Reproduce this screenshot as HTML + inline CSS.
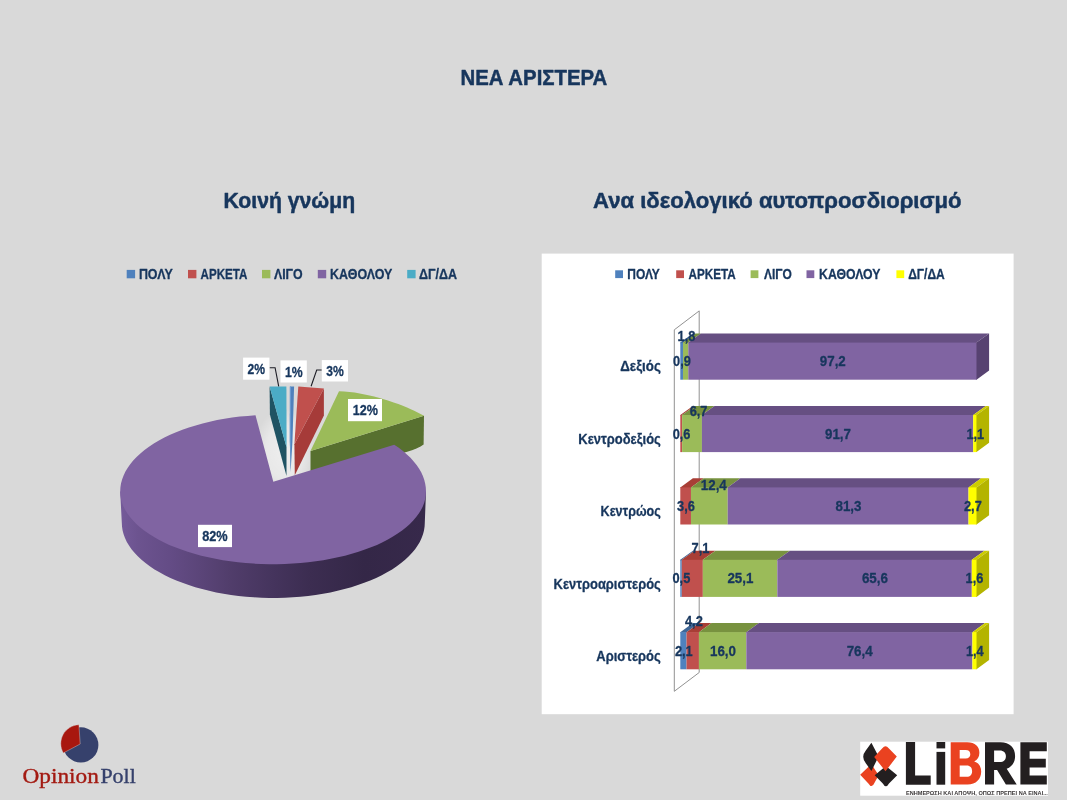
<!DOCTYPE html>
<html lang="el"><head><meta charset="utf-8"><title>ΝΕΑ ΑΡΙΣΤΕΡΑ</title>
<style>html,body{margin:0;padding:0;background:#d9d9d9;font-family:"Liberation Sans",sans-serif;}svg{display:block;will-change:transform;}</style>
</head><body>
<svg width="1067" height="800" viewBox="0 0 1067 800">
<rect x="0" y="0" width="1067" height="800" fill="#d9d9d9"/>
<defs>
<linearGradient id="pw" gradientUnits="userSpaceOnUse" x1="120" y1="0" x2="426" y2="0"><stop offset="0" stop-color="#755b9a"/><stop offset="0.06" stop-color="#6c538f"/><stop offset="0.16" stop-color="#644c86"/><stop offset="0.26" stop-color="#5b4579"/><stop offset="0.36" stop-color="#513d6b"/><stop offset="0.5" stop-color="#45345d"/><stop offset="0.62" stop-color="#3c2d51"/><stop offset="0.8" stop-color="#342747"/><stop offset="1" stop-color="#37294b"/></linearGradient>
<radialGradient id="ng" cx="0.5" cy="0.5" r="0.5"><stop offset="0" stop-color="#ffffff" stop-opacity="0.55"/><stop offset="0.6" stop-color="#ffffff" stop-opacity="0.4"/><stop offset="1" stop-color="#ffffff" stop-opacity="0"/></radialGradient>
</defs>
<text x="460.5" y="85" font-size="22.4" font-weight="bold" font-family="'Liberation Sans', sans-serif" fill="#17365d" stroke="#17365d" stroke-width="0.5" stroke-linejoin="round" text-anchor="start" textLength="146.8" lengthAdjust="spacingAndGlyphs">ΝΕΑ ΑΡΙΣΤΕΡΑ</text>
<text x="223.5" y="208" font-size="22.3" font-weight="bold" font-family="'Liberation Sans', sans-serif" fill="#17365d" stroke="#17365d" stroke-width="0.5" stroke-linejoin="round" text-anchor="start" textLength="131.6" lengthAdjust="spacingAndGlyphs">Κοινή γνώμη</text>
<text x="593.1" y="208" font-size="22.3" font-weight="bold" font-family="'Liberation Sans', sans-serif" fill="#17365d" stroke="#17365d" stroke-width="0.5" stroke-linejoin="round" text-anchor="start" textLength="368.5" lengthAdjust="spacingAndGlyphs">Ανα ιδεολογικό αυτοπροσδιορισμό</text>
<rect x="126.7" y="269.9" width="8.4" height="8.4" fill="#4f81bd"/>
<text x="138.9" y="278.5" font-size="14.1" font-weight="bold" font-family="'Liberation Sans', sans-serif" fill="#17365d" stroke="#17365d" stroke-width="0.3" stroke-linejoin="round" text-anchor="start" textLength="33.8" lengthAdjust="spacingAndGlyphs">ΠΟΛΥ</text>
<rect x="188.0" y="269.9" width="8.4" height="8.4" fill="#c0504d"/>
<text x="200.6" y="278.5" font-size="14.1" font-weight="bold" font-family="'Liberation Sans', sans-serif" fill="#17365d" stroke="#17365d" stroke-width="0.3" stroke-linejoin="round" text-anchor="start" textLength="46.8" lengthAdjust="spacingAndGlyphs">ΑΡΚΕΤΑ</text>
<rect x="262.0" y="269.9" width="8.4" height="8.4" fill="#9bbb59"/>
<text x="273.9" y="278.5" font-size="14.1" font-weight="bold" font-family="'Liberation Sans', sans-serif" fill="#17365d" stroke="#17365d" stroke-width="0.3" stroke-linejoin="round" text-anchor="start" textLength="28.7" lengthAdjust="spacingAndGlyphs">ΛΙΓΟ</text>
<rect x="317.8" y="269.9" width="8.4" height="8.4" fill="#8064a2"/>
<text x="330.1" y="278.5" font-size="14.1" font-weight="bold" font-family="'Liberation Sans', sans-serif" fill="#17365d" stroke="#17365d" stroke-width="0.3" stroke-linejoin="round" text-anchor="start" textLength="62.3" lengthAdjust="spacingAndGlyphs">ΚΑΘΟΛΟΥ</text>
<rect x="407.2" y="269.9" width="8.4" height="8.4" fill="#4bacc6"/>
<text x="419.0" y="278.5" font-size="14.1" font-weight="bold" font-family="'Liberation Sans', sans-serif" fill="#17365d" stroke="#17365d" stroke-width="0.3" stroke-linejoin="round" text-anchor="start" textLength="38.0" lengthAdjust="spacingAndGlyphs">ΔΓ/ΔΑ</text>
<g id="pie">
<ellipse cx="284" cy="452" rx="30" ry="44" fill="url(#ng)"/>
<path d="M310.5 450.9 L424 415.7 L423.6 444.5 Q418 448.5 408 451.5 L310.5 480 Z" fill="#57702f"/>
<path d="M310.5 450.9 L339 391.2 C353 391.4 367 394.6 378.7 397.7 C392 401.5 406 406.5 414.2 410.8 L424 415.7 Z" fill="#9bbb59"/>
<path d="M269.6 386.5 L286.5 447 L286.5 476 L269.9 414.5 Z" fill="#1f5363"/>
<path d="M269.6 386.5 L286.4 386.5 L286.6 447.5 Z" fill="#4bacc6"/>
<path d="M289.9 386.5 L294.1 386.5 L292.4 443 L290.5 472.5 L289.8 440 Z" fill="#4f81bd"/>
<path d="M289.9 386.5 L291 386.5 L290.8 470 L289.8 440 Z" fill="#6c9bd2"/>
<path d="M323.9 388.6 L323.9 415.6 L294.8 475.2 L294.4 444.3 Z" fill="#a63b39"/>
<path d="M298.3 386.6 L323.9 388.6 L294.4 444.3 Z" fill="#c0504d"/>
<path d="M120.2 491.5 L121.8 522.7 L122.0 526.6 L122.6 530.4 L123.6 534.3 L125.0 538.1 L126.8 541.9 L129.0 545.6 L131.5 549.2 L134.5 552.8 L137.8 556.3 L141.5 559.7 L145.5 563.1 L149.8 566.3 L154.5 569.4 L159.5 572.3 L164.8 575.2 L170.4 577.9 L176.3 580.4 L182.4 582.8 L188.7 585.1 L195.3 587.2 L202.1 589.1 L209.1 590.8 L216.2 592.4 L223.5 593.7 L231.0 594.9 L238.5 595.9 L246.1 596.7 L253.8 597.3 L261.6 597.7 L269.4 597.9 L277.2 597.9 L285.0 597.7 L292.8 597.3 L300.5 596.7 L308.1 595.9 L315.6 594.9 L323.1 593.7 L330.4 592.4 L337.5 590.8 L344.5 589.1 L351.3 587.2 L357.9 585.1 L364.2 582.8 L370.3 580.4 L376.2 577.9 L381.8 575.2 L387.1 572.3 L392.1 569.4 L396.8 566.3 L401.1 563.1 L405.1 559.7 L408.8 556.3 L412.1 552.8 L415.1 549.2 L417.6 545.6 L419.8 541.9 L421.6 538.1 L423.0 534.3 L424.0 530.4 L424.6 526.6 L424.8 522.7 L426 491.5 Z" fill="url(#pw)"/>
<path d="M273.3 481.8 L255.5 415.3 L247.7 415.9 L239.9 416.6 L232.1 417.6 L224.5 418.8 L217.1 420.1 L209.8 421.7 L202.6 423.4 L195.7 425.4 L188.9 427.5 L182.4 429.8 L176.1 432.2 L170.1 434.8 L164.4 437.6 L158.9 440.5 L153.8 443.5 L149.0 446.7 L144.5 450.0 L140.4 453.4 L136.6 456.9 L133.2 460.5 L130.2 464.2 L127.6 468.0 L125.3 471.8 L123.5 475.7 L122.1 479.6 L121.0 483.5 L120.4 487.5 L120.2 491.5 L120.4 495.2 L121.0 499.0 L122.0 502.7 L123.4 506.4 L125.2 510.0 L127.4 513.6 L130.0 517.1 L133.0 520.6 L136.3 524.0 L140.0 527.3 L144.1 530.5 L148.5 533.6 L153.2 536.6 L158.3 539.5 L163.6 542.2 L169.2 544.9 L175.2 547.3 L181.3 549.6 L187.7 551.8 L194.4 553.8 L201.2 555.7 L208.3 557.3 L215.5 558.8 L222.9 560.2 L230.4 561.3 L238.0 562.3 L245.7 563.0 L253.5 563.6 L261.3 564.0 L269.2 564.2 L277.0 564.2 L284.9 564.0 L292.7 563.6 L300.5 563.0 L308.2 562.3 L315.8 561.3 L323.3 560.2 L330.7 558.8 L337.9 557.3 L345.0 555.7 L351.8 553.8 L358.5 551.8 L364.9 549.6 L371.0 547.3 L377.0 544.9 L382.6 542.2 L387.9 539.5 L393.0 536.6 L397.7 533.6 L402.1 530.5 L406.2 527.3 L409.9 524.0 L413.2 520.6 L416.2 517.1 L418.8 513.6 L421.0 510.0 L422.8 506.4 L424.2 502.7 L425.2 499.0 L425.8 495.2 L426.0 491.5 L425.8 487.6 L425.2 483.8 L424.3 479.9 L422.9 476.1 L421.2 472.3 L419.0 468.6 L416.6 465.0 L413.7 461.4 L410.5 457.8 L406.9 454.4 L403.0 451.1 L398.8 447.8 L394.2 444.7 Z" fill="#8064a2"/>
<polyline points="269.6,367.7 275.1,367.7 278.7,386.3" fill="none" stroke="#1c1c24" stroke-width="1.1"/>
<polyline points="321.8,370 316.7,370 311.1,386.3" fill="none" stroke="#1c1c24" stroke-width="1.1"/>
<rect x="243.1" y="357.6" width="26.3" height="22.1" fill="#ffffff"/>
<text x="247.6" y="373.8" font-size="14" font-weight="bold" font-family="'Liberation Sans', sans-serif" fill="#17365d" stroke="#17365d" stroke-width="0.3" stroke-linejoin="round" text-anchor="start" textLength="17.5" lengthAdjust="spacingAndGlyphs">2%</text>
<rect x="280.5" y="360.4" width="26.3" height="22.1" fill="#ffffff"/>
<text x="285.0" y="376.6" font-size="14" font-weight="bold" font-family="'Liberation Sans', sans-serif" fill="#17365d" stroke="#17365d" stroke-width="0.3" stroke-linejoin="round" text-anchor="start" textLength="17.7" lengthAdjust="spacingAndGlyphs">1%</text>
<rect x="321.8" y="360.1" width="26.2" height="21.4" fill="#ffffff"/>
<text x="326.3" y="376.1" font-size="14" font-weight="bold" font-family="'Liberation Sans', sans-serif" fill="#17365d" stroke="#17365d" stroke-width="0.3" stroke-linejoin="round" text-anchor="start" textLength="17.5" lengthAdjust="spacingAndGlyphs">3%</text>
<rect x="348.0" y="399.0" width="34.0" height="22.2" fill="#ffffff"/>
<text x="352.7" y="415.4" font-size="14" font-weight="bold" font-family="'Liberation Sans', sans-serif" fill="#17365d" stroke="#17365d" stroke-width="0.3" stroke-linejoin="round" text-anchor="start" textLength="25.2" lengthAdjust="spacingAndGlyphs">12%</text>
<rect x="198.0" y="524.8" width="34.0" height="22.3" fill="#ffffff"/>
<text x="202.2" y="541.2" font-size="14" font-weight="bold" font-family="'Liberation Sans', sans-serif" fill="#17365d" stroke="#17365d" stroke-width="0.3" stroke-linejoin="round" text-anchor="start" textLength="25.5" lengthAdjust="spacingAndGlyphs">82%</text>
</g>
<rect x="541.7" y="253.6" width="471.9" height="460.6" fill="#ffffff"/>
<rect x="615.2" y="270.3" width="7.8" height="7.8" fill="#4f81bd"/>
<text x="627.3" y="278.5" font-size="13.9" font-weight="bold" font-family="'Liberation Sans', sans-serif" fill="#17365d" stroke="#17365d" stroke-width="0.3" stroke-linejoin="round" text-anchor="start" textLength="32.5" lengthAdjust="spacingAndGlyphs">ΠΟΛΥ</text>
<rect x="676.2" y="270.3" width="7.8" height="7.8" fill="#c0504d"/>
<text x="688.6" y="278.5" font-size="13.9" font-weight="bold" font-family="'Liberation Sans', sans-serif" fill="#17365d" stroke="#17365d" stroke-width="0.3" stroke-linejoin="round" text-anchor="start" textLength="47.2" lengthAdjust="spacingAndGlyphs">ΑΡΚΕΤΑ</text>
<rect x="750.6" y="270.3" width="7.8" height="7.8" fill="#9bbb59"/>
<text x="764.0" y="278.5" font-size="13.9" font-weight="bold" font-family="'Liberation Sans', sans-serif" fill="#17365d" stroke="#17365d" stroke-width="0.3" stroke-linejoin="round" text-anchor="start" textLength="27.8" lengthAdjust="spacingAndGlyphs">ΛΙΓΟ</text>
<rect x="806.5" y="270.3" width="7.8" height="7.8" fill="#8064a2"/>
<text x="819.1" y="278.5" font-size="13.9" font-weight="bold" font-family="'Liberation Sans', sans-serif" fill="#17365d" stroke="#17365d" stroke-width="0.3" stroke-linejoin="round" text-anchor="start" textLength="61.3" lengthAdjust="spacingAndGlyphs">ΚΑΘΟΛΟΥ</text>
<rect x="896.4" y="270.3" width="7.8" height="7.8" fill="#ffff00"/>
<text x="908.2" y="278.5" font-size="13.9" font-weight="bold" font-family="'Liberation Sans', sans-serif" fill="#17365d" stroke="#17365d" stroke-width="0.3" stroke-linejoin="round" text-anchor="start" textLength="36.6" lengthAdjust="spacingAndGlyphs">ΔΓ/ΔΑ</text>
<path d="M674.3 329.8 L699.2 310.9 L699.2 672.5 L674.3 691.3 Z" fill="none" stroke="#929292" stroke-width="1"/>
<path d="M680.3 342.6 L692.9 333.5 L695.6 333.5 L683.0 342.6 L683.0 343.2 L680.3 343.2 Z" fill="#3f6797"/>
<path d="M683.0 342.6 L695.6 333.5 L700.9 333.5 L688.3 342.6 L688.3 343.2 L683.0 343.2 Z" fill="#78923f"/>
<path d="M688.3 342.6 L700.9 333.5 L989.1 333.5 L976.5 342.6 L976.5 343.2 L688.3 343.2 Z" fill="#664f82"/>
<path d="M976.5 342.6 L989.1 333.5 L989.1 370.4 L976.5 379.7 L975.9 379.7 L975.9 342.6 Z" fill="#574271"/>
<rect x="680.3" y="342.6" width="2.67" height="37.1" fill="#4f81bd"/>
<rect x="683.0" y="342.6" width="5.34" height="37.1" fill="#9bbb59"/>
<rect x="688.3" y="342.6" width="288.19" height="37.1" fill="#8064a2"/>
<path d="M680.3 415.0 L692.9 405.9 L694.7 405.9 L682.1 415.0 L682.1 415.6 L680.3 415.6 Z" fill="#a83e36"/>
<path d="M682.1 415.0 L694.7 405.9 L714.5 405.9 L701.9 415.0 L701.9 415.6 L682.1 415.6 Z" fill="#78923f"/>
<path d="M701.9 415.0 L714.5 405.9 L985.8 405.9 L973.2 415.0 L973.2 415.6 L701.9 415.6 Z" fill="#664f82"/>
<path d="M973.2 415.0 L985.8 405.9 L989.1 405.9 L976.5 415.0 L976.5 415.6 L973.2 415.6 Z" fill="#cccc00"/>
<path d="M976.5 415.0 L989.1 405.9 L989.1 442.8 L976.5 452.1 L975.9 452.1 L975.9 415.0 Z" fill="#b4b400"/>
<rect x="680.3" y="415.0" width="1.78" height="37.1" fill="#c0504d"/>
<rect x="682.1" y="415.0" width="19.83" height="37.1" fill="#9bbb59"/>
<rect x="701.9" y="415.0" width="271.34" height="37.1" fill="#8064a2"/>
<rect x="973.2" y="415.0" width="3.25" height="37.1" fill="#ffff00"/>
<path d="M680.3 487.4 L692.9 478.3 L703.6 478.3 L691.0 487.4 L691.0 488.0 L680.3 488.0 Z" fill="#a83e36"/>
<path d="M691.0 487.4 L703.6 478.3 L740.3 478.3 L727.7 487.4 L727.7 488.0 L691.0 488.0 Z" fill="#78923f"/>
<path d="M727.7 487.4 L740.3 478.3 L981.1 478.3 L968.5 487.4 L968.5 488.0 L727.7 488.0 Z" fill="#664f82"/>
<path d="M968.5 487.4 L981.1 478.3 L989.1 478.3 L976.5 487.4 L976.5 488.0 L968.5 488.0 Z" fill="#cccc00"/>
<path d="M976.5 487.4 L989.1 478.3 L989.1 515.2 L976.5 524.5 L975.9 524.5 L975.9 487.4 Z" fill="#b4b400"/>
<rect x="680.3" y="487.4" width="10.66" height="37.1" fill="#c0504d"/>
<rect x="691.0" y="487.4" width="36.73" height="37.1" fill="#9bbb59"/>
<rect x="727.7" y="487.4" width="240.81" height="37.1" fill="#8064a2"/>
<rect x="968.5" y="487.4" width="8.00" height="37.1" fill="#ffff00"/>
<path d="M680.3 559.8 L692.9 550.7 L694.4 550.7 L681.8 559.8 L681.8 560.4 L680.3 560.4 Z" fill="#3f6797"/>
<path d="M681.8 559.8 L694.4 550.7 L715.4 550.7 L702.8 559.8 L702.8 560.4 L681.8 560.4 Z" fill="#a83e36"/>
<path d="M702.8 559.8 L715.4 550.7 L789.9 550.7 L777.3 559.8 L777.3 560.4 L702.8 560.4 Z" fill="#78923f"/>
<path d="M777.3 559.8 L789.9 550.7 L984.4 550.7 L971.8 559.8 L971.8 560.4 L777.3 560.4 Z" fill="#664f82"/>
<path d="M971.8 559.8 L984.4 550.7 L989.1 550.7 L976.5 559.8 L976.5 560.4 L971.8 560.4 Z" fill="#cccc00"/>
<path d="M976.5 559.8 L989.1 550.7 L989.1 587.6 L976.5 596.9 L975.9 596.9 L975.9 559.8 Z" fill="#b4b400"/>
<rect x="680.3" y="559.8" width="1.48" height="37.1" fill="#4f81bd"/>
<rect x="681.8" y="559.8" width="21.05" height="37.1" fill="#c0504d"/>
<rect x="702.8" y="559.8" width="74.42" height="37.1" fill="#9bbb59"/>
<rect x="777.3" y="559.8" width="194.50" height="37.1" fill="#8064a2"/>
<rect x="971.8" y="559.8" width="4.74" height="37.1" fill="#ffff00"/>
<path d="M680.3 632.2 L692.9 623.1 L699.1 623.1 L686.5 632.2 L686.5 632.8 L680.3 632.8 Z" fill="#3f6797"/>
<path d="M686.5 632.2 L699.1 623.1 L711.5 623.1 L698.9 632.2 L698.9 632.8 L686.5 632.8 Z" fill="#a83e36"/>
<path d="M698.9 632.2 L711.5 623.1 L758.9 623.1 L746.3 632.2 L746.3 632.8 L698.9 632.8 Z" fill="#78923f"/>
<path d="M746.3 632.2 L758.9 623.1 L985.0 623.1 L972.4 632.2 L972.4 632.8 L746.3 632.8 Z" fill="#664f82"/>
<path d="M972.4 632.2 L985.0 623.1 L989.1 623.1 L976.5 632.2 L976.5 632.8 L972.4 632.8 Z" fill="#cccc00"/>
<path d="M976.5 632.2 L989.1 623.1 L989.1 660.0 L976.5 669.3 L975.9 669.3 L975.9 632.2 Z" fill="#b4b400"/>
<rect x="680.3" y="632.2" width="6.21" height="37.1" fill="#4f81bd"/>
<rect x="686.5" y="632.2" width="12.43" height="37.1" fill="#c0504d"/>
<rect x="698.9" y="632.2" width="47.34" height="37.1" fill="#9bbb59"/>
<rect x="746.3" y="632.2" width="226.07" height="37.1" fill="#8064a2"/>
<rect x="972.4" y="632.2" width="4.14" height="37.1" fill="#ffff00"/>
<text x="660.8" y="371.2" font-size="13.8" font-weight="bold" font-family="'Liberation Sans', sans-serif" fill="#17365d" stroke="#17365d" stroke-width="0.3" stroke-linejoin="round" text-anchor="end" textLength="40.5" lengthAdjust="spacingAndGlyphs">Δεξιός</text>
<text x="673.1" y="366.1" font-size="14" font-weight="bold" font-family="'Liberation Sans', sans-serif" fill="#17365d" stroke="#17365d" stroke-width="0.3" stroke-linejoin="round" text-anchor="start" textLength="17.8" lengthAdjust="spacingAndGlyphs">0,9</text>
<text x="677.6" y="341.2" font-size="14" font-weight="bold" font-family="'Liberation Sans', sans-serif" fill="#17365d" stroke="#17365d" stroke-width="0.3" stroke-linejoin="round" text-anchor="start" textLength="17.8" lengthAdjust="spacingAndGlyphs">1,8</text>
<text x="819.8" y="366.1" font-size="14" font-weight="bold" font-family="'Liberation Sans', sans-serif" fill="#17365d" stroke="#17365d" stroke-width="0.3" stroke-linejoin="round" text-anchor="start" textLength="26.0" lengthAdjust="spacingAndGlyphs">97,2</text>
<text x="660.8" y="443.75" font-size="13.8" font-weight="bold" font-family="'Liberation Sans', sans-serif" fill="#17365d" stroke="#17365d" stroke-width="0.3" stroke-linejoin="round" text-anchor="end" textLength="82.5" lengthAdjust="spacingAndGlyphs">Κεντροδεξιός</text>
<text x="672.7" y="438.5" font-size="14" font-weight="bold" font-family="'Liberation Sans', sans-serif" fill="#17365d" stroke="#17365d" stroke-width="0.3" stroke-linejoin="round" text-anchor="start" textLength="17.8" lengthAdjust="spacingAndGlyphs">0,6</text>
<text x="689.7" y="416.3" font-size="14" font-weight="bold" font-family="'Liberation Sans', sans-serif" fill="#17365d" stroke="#17365d" stroke-width="0.3" stroke-linejoin="round" text-anchor="start" textLength="17.8" lengthAdjust="spacingAndGlyphs">6,7</text>
<text x="825.0" y="438.5" font-size="14" font-weight="bold" font-family="'Liberation Sans', sans-serif" fill="#17365d" stroke="#17365d" stroke-width="0.3" stroke-linejoin="round" text-anchor="start" textLength="26.0" lengthAdjust="spacingAndGlyphs">91,7</text>
<text x="966.4" y="438.5" font-size="14" font-weight="bold" font-family="'Liberation Sans', sans-serif" fill="#17365d" stroke="#17365d" stroke-width="0.3" stroke-linejoin="round" text-anchor="start" textLength="17.8" lengthAdjust="spacingAndGlyphs">1,1</text>
<text x="660.8" y="516.3" font-size="13.8" font-weight="bold" font-family="'Liberation Sans', sans-serif" fill="#17365d" stroke="#17365d" stroke-width="0.3" stroke-linejoin="round" text-anchor="end" textLength="60.2" lengthAdjust="spacingAndGlyphs">Κεντρώος</text>
<text x="677.1" y="510.9" font-size="14" font-weight="bold" font-family="'Liberation Sans', sans-serif" fill="#17365d" stroke="#17365d" stroke-width="0.3" stroke-linejoin="round" text-anchor="start" textLength="17.8" lengthAdjust="spacingAndGlyphs">3,6</text>
<text x="700.8" y="490.0" font-size="14" font-weight="bold" font-family="'Liberation Sans', sans-serif" fill="#17365d" stroke="#17365d" stroke-width="0.3" stroke-linejoin="round" text-anchor="start" textLength="26.0" lengthAdjust="spacingAndGlyphs">12,4</text>
<text x="835.5" y="510.9" font-size="14" font-weight="bold" font-family="'Liberation Sans', sans-serif" fill="#17365d" stroke="#17365d" stroke-width="0.3" stroke-linejoin="round" text-anchor="start" textLength="26.0" lengthAdjust="spacingAndGlyphs">81,3</text>
<text x="964.0" y="510.9" font-size="14" font-weight="bold" font-family="'Liberation Sans', sans-serif" fill="#17365d" stroke="#17365d" stroke-width="0.3" stroke-linejoin="round" text-anchor="start" textLength="17.8" lengthAdjust="spacingAndGlyphs">2,7</text>
<text x="660.8" y="588.8499999999999" font-size="13.8" font-weight="bold" font-family="'Liberation Sans', sans-serif" fill="#17365d" stroke="#17365d" stroke-width="0.3" stroke-linejoin="round" text-anchor="end" textLength="107.2" lengthAdjust="spacingAndGlyphs">Κεντροαριστερός</text>
<text x="672.5" y="583.3" font-size="14" font-weight="bold" font-family="'Liberation Sans', sans-serif" fill="#17365d" stroke="#17365d" stroke-width="0.3" stroke-linejoin="round" text-anchor="start" textLength="17.8" lengthAdjust="spacingAndGlyphs">0,5</text>
<text x="691.6" y="553.3" font-size="14" font-weight="bold" font-family="'Liberation Sans', sans-serif" fill="#17365d" stroke="#17365d" stroke-width="0.3" stroke-linejoin="round" text-anchor="start" textLength="17.8" lengthAdjust="spacingAndGlyphs">7,1</text>
<text x="727.4" y="583.3" font-size="14" font-weight="bold" font-family="'Liberation Sans', sans-serif" fill="#17365d" stroke="#17365d" stroke-width="0.3" stroke-linejoin="round" text-anchor="start" textLength="26.0" lengthAdjust="spacingAndGlyphs">25,1</text>
<text x="861.9" y="583.3" font-size="14" font-weight="bold" font-family="'Liberation Sans', sans-serif" fill="#17365d" stroke="#17365d" stroke-width="0.3" stroke-linejoin="round" text-anchor="start" textLength="26.0" lengthAdjust="spacingAndGlyphs">65,6</text>
<text x="965.6" y="583.3" font-size="14" font-weight="bold" font-family="'Liberation Sans', sans-serif" fill="#17365d" stroke="#17365d" stroke-width="0.3" stroke-linejoin="round" text-anchor="start" textLength="17.8" lengthAdjust="spacingAndGlyphs">1,6</text>
<text x="660.8" y="661.4" font-size="13.8" font-weight="bold" font-family="'Liberation Sans', sans-serif" fill="#17365d" stroke="#17365d" stroke-width="0.3" stroke-linejoin="round" text-anchor="end" textLength="64.5" lengthAdjust="spacingAndGlyphs">Αριστερός</text>
<text x="674.9" y="655.7" font-size="14" font-weight="bold" font-family="'Liberation Sans', sans-serif" fill="#17365d" stroke="#17365d" stroke-width="0.3" stroke-linejoin="round" text-anchor="start" textLength="17.8" lengthAdjust="spacingAndGlyphs">2,1</text>
<text x="685.0" y="625.8" font-size="14" font-weight="bold" font-family="'Liberation Sans', sans-serif" fill="#17365d" stroke="#17365d" stroke-width="0.3" stroke-linejoin="round" text-anchor="start" textLength="17.8" lengthAdjust="spacingAndGlyphs">4,2</text>
<text x="710.0" y="655.7" font-size="14" font-weight="bold" font-family="'Liberation Sans', sans-serif" fill="#17365d" stroke="#17365d" stroke-width="0.3" stroke-linejoin="round" text-anchor="start" textLength="26.0" lengthAdjust="spacingAndGlyphs">16,0</text>
<text x="846.7" y="655.7" font-size="14" font-weight="bold" font-family="'Liberation Sans', sans-serif" fill="#17365d" stroke="#17365d" stroke-width="0.3" stroke-linejoin="round" text-anchor="start" textLength="26.0" lengthAdjust="spacingAndGlyphs">76,4</text>
<text x="965.9" y="655.7" font-size="14" font-weight="bold" font-family="'Liberation Sans', sans-serif" fill="#17365d" stroke="#17365d" stroke-width="0.3" stroke-linejoin="round" text-anchor="start" textLength="17.8" lengthAdjust="spacingAndGlyphs">1,4</text>
<g id="opinionpoll">
<circle cx="80.8" cy="744.9" r="17.6" fill="#36416c"/>
<path d="M80.2 744.0 L78.9 724.8 A18.8 18.8 0 0 0 63.3 753.0 Z" fill="#a8170f" stroke="#d9d9d9" stroke-width="0.4"/>
<text x="22.5" y="783" font-size="20.5" font-family="'Liberation Serif', serif" textLength="76.3" lengthAdjust="spacingAndGlyphs" fill="#a31a12" stroke="#a31a12" stroke-width="0.35">Opinion</text>
<text x="100.4" y="783" font-size="20.5" font-family="'Liberation Serif', serif" textLength="35.4" lengthAdjust="spacingAndGlyphs" fill="#36416c" stroke="#36416c" stroke-width="0.35">Poll</text>
</g>
<g id="libre">
<rect x="860.2" y="741.7" width="187.8" height="54" fill="#ffffff"/>
<path d="M860.2 774.8 L871.4 764 L878.6 775.3 L874.4 783 Q871.9 789 868.4 783.4 Z" fill="#ea4220"/>
<path d="M874.7 775.3 L885.9 766 L897.2 775.3 L889 783.4 Q885.9 789 882.8 783.4 Z" fill="#231f20"/>
<path d="M871.4 742.8 L878.6 756.6 L871.4 771 L865.8 763.2 Q860.6 756.8 865.8 750.4 Z" fill="#231f20"/>
<path d="M874.2 757 L882.3 748.2 Q885.5 744.2 888.7 748.2 L896.8 756.6 L885.5 771.2 Z" fill="#ea4220"/>
<path d="M905.9 742 h9.2 v33.4 h15.6 v9.3 h-24.8 Z" fill="#231f20"/>
<rect x="936.5" y="742" width="8.7" height="6.4" fill="#231f20"/>
<rect x="936.5" y="751.9" width="8.7" height="32.8" fill="#231f20"/>
<path fill-rule="evenodd" d="M950.7 742.2 h16.5 c8 0 12.2 4.4 12.2 10.6 c0 4.2 -1.9 7 -5.2 8.6 c4.6 1.5 7 5.2 7 10.2 c0 7.6 -5.2 13 -13.6 13 h-16.9 Z M959.7 750 v8.4 h6 c3 0 4.6 -1.6 4.6 -4.2 c0 -2.6 -1.6 -4.2 -4.6 -4.2 Z M959.7 765.6 v11.2 h7 c3.6 0 5.4 -2.2 5.4 -5.6 c0 -3.4 -1.9 -5.6 -5.4 -5.6 Z" fill="#ea4220"/>
<path fill-rule="evenodd" d="M985 742.2 h15.5 c9.2 0 14.6 5.4 14.6 13.8 c0 6.4 -3.2 10.8 -8.4 12.8 l10 15.8 h-10.8 l-8.8 -14.6 h-3 v14.6 h-9.1 Z M994.1 750.4 v11.6 h5.6 c4 0 6.2 -2.2 6.2 -5.8 c0 -3.6 -2.2 -5.8 -6.2 -5.8 Z" fill="#231f20"/>
<path d="M1020.4 742.2 h26.4 v9 h-17.2 v7.6 h16.2 v8.8 h-16.2 v8 h17.2 v9 h-26.4 Z" fill="#231f20"/>
<text x="905.9" y="794.5" font-size="6" font-weight="bold" font-family="'Liberation Sans', sans-serif" fill="#3a3637" textLength="142" lengthAdjust="spacingAndGlyphs">ΕΝΗΜΕΡΩΣΗ ΚΑΙ ΑΠΟΨΗ, ΟΠΩΣ ΠΡΕΠΕΙ ΝΑ ΕΙΝΑΙ...</text>
</g>
</svg>
</body></html>
